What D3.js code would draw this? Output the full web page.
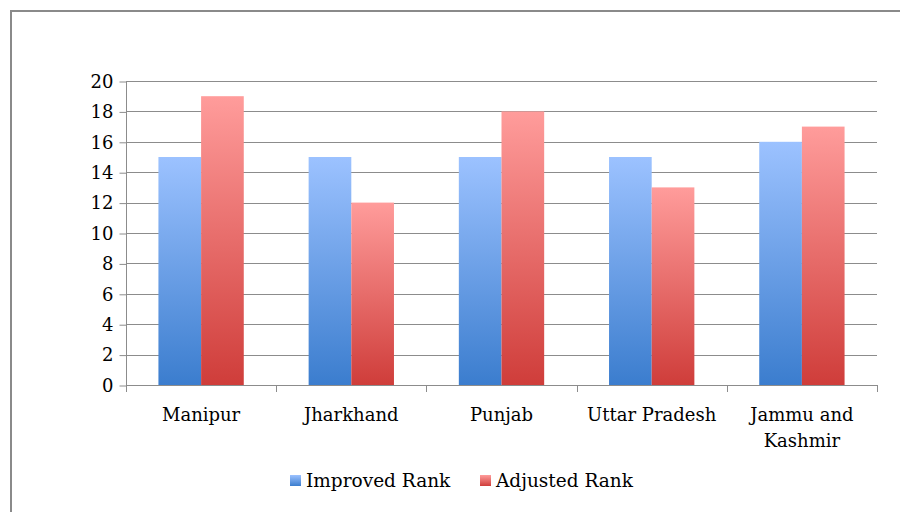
<!DOCTYPE html>
<html>
<head>
<meta charset="utf-8">
<script src="https://cdn.jsdelivr.net/npm/d3@7"></script>
<style>
  body { margin: 0; background: #fff; }
  text { font-family: "DejaVu Serif", serif; fill: #000; }
</style>
</head>
<body>
<script>
var states = ["Manipur", "Jharkhand", "Punjab", "Uttar Pradesh", "Jammu and Kashmir"];
var improvedRank = [15, 15, 15, 15, 16];
var adjustedRank = [19, 12, 18, 13, 17];
var seriesNames = ["Improved Rank", "Adjusted Rank"];
var yTicks = [0, 2, 4, 6, 8, 10, 12, 14, 16, 18, 20];

var width = 900, height = 512;
var plotLeft = 126, plotRight = 877, plotTop = 81, plotBottom = 385;

var svg = d3.select("body").append("svg")
  .attr("width", width)
  .attr("height", height);

// gradients for the bars
var defs = svg.append("defs");
function grad(id, c1, c2) {
  var g = defs.append("linearGradient").attr("id", id)
    .attr("x1", 0).attr("y1", 0).attr("x2", 0).attr("y2", 1);
  g.append("stop").attr("offset", "0%").attr("stop-color", c1);
  g.append("stop").attr("offset", "100%").attr("stop-color", c2);
}
grad("gBlue", "#9cc2ff", "#3b7dce");
grad("gRed", "#ff9c9b", "#cf3d3a");
var fills = ["url(#gBlue)", "url(#gRed)"];

// outer frame
svg.append("rect")
  .attr("x", 11).attr("y", 11)
  .attr("width", 900).attr("height", 520)
  .attr("fill", "none")
  .attr("stroke", "#8a8a8a")
  .attr("stroke-width", 2);

var x = d3.scaleBand().domain(states).range([plotLeft, plotRight]).paddingInner(0).paddingOuter(0);
var x1 = d3.scaleBand().domain(seriesNames).range([0, x.bandwidth()]).paddingInner(0).paddingOuter(0.76);
var y = d3.scaleLinear().domain([0, 20]).range([plotBottom, plotTop]);

// grid lines
svg.append("g")
  .selectAll("line")
  .data(yTicks.filter(d => d > 0))
  .enter()
  .append("line")
  .attr("x1", plotLeft).attr("x2", plotRight)
  .attr("y1", d => Math.round(y(d)) + 0.5)
  .attr("y2", d => Math.round(y(d)) + 0.5)
  .attr("stroke", "#8c8c8c")
  .attr("stroke-width", 1);

// y axis
var yAxis = d3.axisLeft(y).tickValues(yTicks).tickSize(7).tickPadding(6);
var ya = svg.append("g")
  .attr("transform", "translate(" + (plotLeft + 0.5) + ",0.5)")
  .call(yAxis);
ya.selectAll("line").attr("stroke", "#8c8c8c");
ya.select(".domain").attr("stroke", "#8c8c8c").attr("d", "M0," + (plotTop - 0.5) + "V" + (plotBottom - 0.5));
ya.selectAll("text").style("font-size", "18px").attr("fill", "#000");

// bars
var data = states.map((s, i) => ({ state: s, vals: [improvedRank[i], adjustedRank[i]] }));
var groups = svg.append("g").selectAll("g")
  .data(data)
  .enter()
  .append("g")
  .attr("transform", d => "translate(" + x(d.state) + ",0)");

groups.selectAll("rect")
  .data(d => d.vals.map((v, j) => ({ name: seriesNames[j], v: v, j: j })))
  .enter()
  .append("rect")
  .attr("x", d => x1(d.name))
  .attr("width", x1.bandwidth())
  .attr("y", d => y(d.v))
  .attr("height", d => y(0) - y(d.v))
  .attr("fill", d => fills[d.j]);

// x axis
svg.append("line")
  .attr("x1", plotLeft).attr("x2", plotRight)
  .attr("y1", plotBottom + 0.5).attr("y2", plotBottom + 0.5)
  .attr("stroke", "#8c8c8c");
var bounds = states.map(s => x(s)).concat([plotRight]);
svg.append("g").selectAll("line")
  .data(bounds)
  .enter()
  .append("line")
  .attr("x1", d => Math.round(d) + 0.5).attr("x2", d => Math.round(d) + 0.5)
  .attr("y1", plotBottom).attr("y2", plotBottom + 7)
  .attr("stroke", "#8c8c8c");

// category labels (wrapped)
var lines = { "Jammu and Kashmir": ["Jammu and", "Kashmir"] };
svg.append("g").selectAll("text")
  .data(states)
  .enter()
  .append("text")
  .attr("text-anchor", "middle")
  .style("font-size", "18px")
  .each(function (d) {
    var t = d3.select(this);
    (lines[d] || [d]).forEach((ln, k) => {
      t.append("tspan")
        .attr("x", x(d) + x.bandwidth() / 2)
        .attr("y", 421 + k * 26)
        .text(ln);
    });
  });

// legend
var legendX = [290, 480];
var legend = svg.append("g").selectAll("g")
  .data(seriesNames)
  .enter()
  .append("g")
  .attr("transform", (d, i) => "translate(" + legendX[i] + ",475)");
legend.append("rect")
  .attr("width", 11).attr("height", 11)
  .attr("fill", (d, i) => fills[i]);
legend.append("text")
  .attr("x", 16).attr("y", 12)
  .style("font-size", "18.5px")
  .text(d => d);
</script>
</body>
</html>
